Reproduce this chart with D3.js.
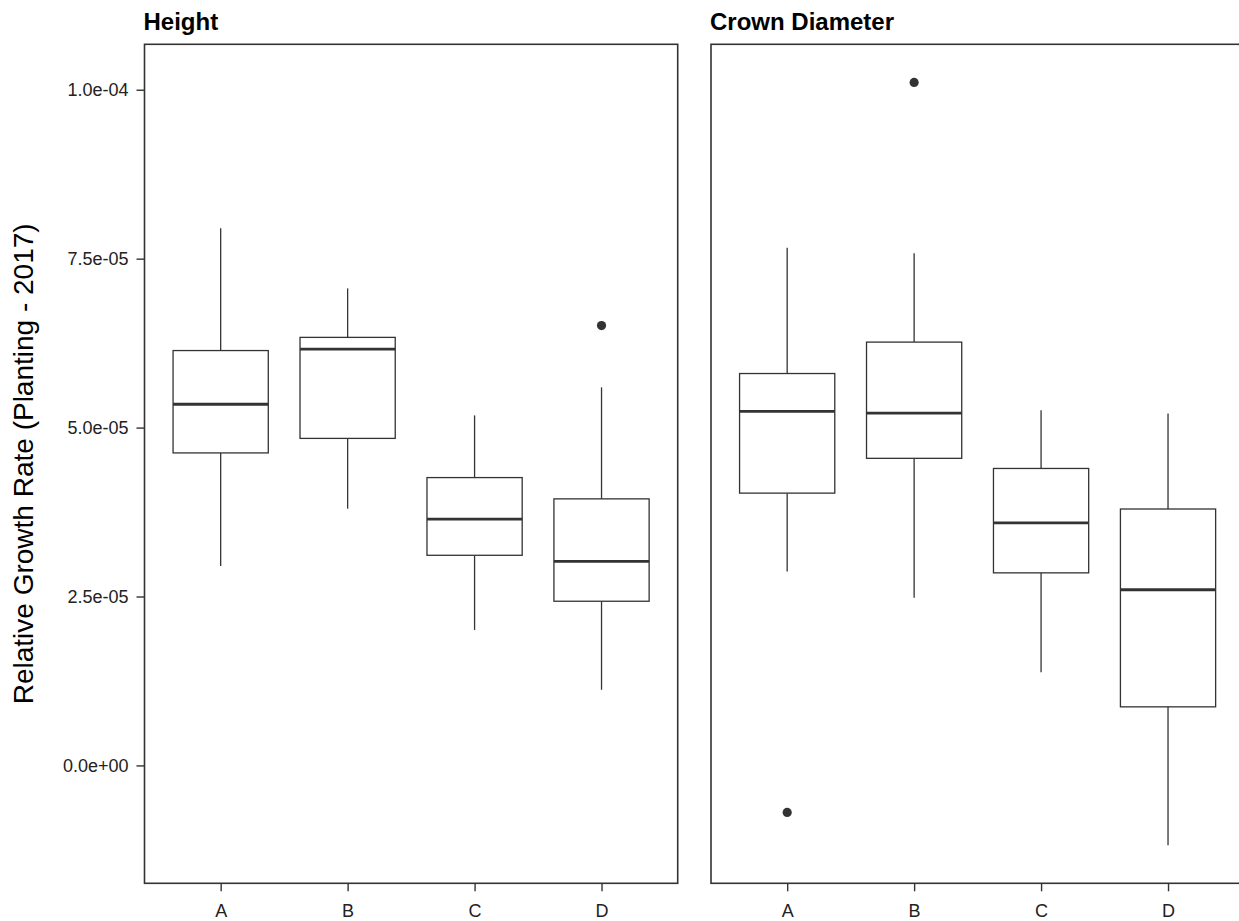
<!DOCTYPE html>
<html>
<head>
<meta charset="utf-8">
<script src="https://cdn.jsdelivr.net/npm/d3@7"></script>
<style>
  html, body { margin: 0; padding: 0; background: #fff; }
  svg { display: block; font-family: "Liberation Sans", Arial, sans-serif; }
</style>
</head>
<body>
<svg id="chart" width="1239" height="921"></svg>
<script>
// ---- data ----
const categories = ["A", "B", "C", "D"];
const panelTitles = ["Height", "Crown Diameter"];

// each row: [lower whisker, Q1, median, Q3, upper whisker]
const heightStats = [
  [2.95e-5, 4.625e-5, 5.345e-5, 6.14e-5, 7.95e-5],
  [3.80e-5, 4.84e-5, 6.16e-5, 6.335e-5, 7.06e-5],
  [2.005e-5, 3.11e-5, 3.645e-5, 4.26e-5, 5.18e-5],
  [1.12e-5, 2.43e-5, 3.02e-5, 3.945e-5, 5.595e-5]
];
const heightOutliers = [[], [], [], [6.51e-5]];

const crownStats = [
  [2.87e-5, 4.03e-5, 5.24e-5, 5.80e-5, 7.66e-5],
  [2.48e-5, 4.545e-5, 5.215e-5, 6.265e-5, 7.58e-5],
  [1.38e-5, 2.85e-5, 3.59e-5, 4.395e-5, 5.255e-5],
  [-1.18e-5, 0.867e-5, 2.60e-5, 3.795e-5, 5.21e-5]
];
const crownOutliers = [[-0.695e-5], [1.0108e-4], [], []];

const yTickValues = [0, 2.5e-5, 5.0e-5, 7.5e-5, 1.0e-4];
const yTickLabels = ["0.0e+00", "2.5e-05", "5.0e-05", "7.5e-05", "1.0e-04"];
const yTitle = "Relative Growth Rate (Planting - 2017)";

// ---- layout ----
const svg = d3.select("#chart");
const plotTop = 44.3, plotBottom = 883.3;
const panelW = 533.2;
const panelLefts = [144.5, 711];
const ink = "#333333";

const allVals = [];
[heightStats, crownStats].forEach(s => s.forEach(r => allVals.push(...r)));
[heightOutliers, crownOutliers].forEach(s => s.forEach(r => allVals.push(...r)));
const vmin = d3.min(allVals), vmax = d3.max(allVals);
const pad = (vmax - vmin) * 0.05;
const y = d3.scaleLinear().domain([vmin - pad, vmax + pad]).range([plotBottom, plotTop]);

const panels = [
  { title: panelTitles[0], stats: heightStats, outliers: heightOutliers },
  { title: panelTitles[1], stats: crownStats, outliers: crownOutliers }
];

panels.forEach((p, pi) => {
  const left = panelLefts[pi];
  const x = d3.scalePoint().domain(categories).range([left, left + panelW]).padding(0.6);
  const boxW = x.step() * 0.75;
  const g = svg.append("g");

  // facet title
  g.append("text")
    .attr("x", left - 1)
    .attr("y", 30)
    .attr("font-size", 24)
    .attr("font-weight", "bold")
    .attr("fill", "#000")
    .text(p.title);

  // boxes
  categories.forEach((c, i) => {
    const [lo, q1, med, q3, hi] = p.stats[i];
    const cx = x(c);
    g.append("line").attr("x1", cx).attr("x2", cx).attr("y1", y(q3)).attr("y2", y(hi))
      .attr("stroke", ink).attr("stroke-width", 1.3);
    g.append("line").attr("x1", cx).attr("x2", cx).attr("y1", y(q1)).attr("y2", y(lo))
      .attr("stroke", ink).attr("stroke-width", 1.3);
    g.append("rect")
      .attr("x", cx - boxW / 2).attr("y", y(q3))
      .attr("width", boxW).attr("height", y(q1) - y(q3))
      .attr("fill", "#fff").attr("stroke", ink).attr("stroke-width", 1.3);
    g.append("line").attr("x1", cx - boxW / 2).attr("x2", cx + boxW / 2)
      .attr("y1", y(med)).attr("y2", y(med))
      .attr("stroke", ink).attr("stroke-width", 2.8);
    p.outliers[i].forEach(v => {
      g.append("circle").attr("cx", cx).attr("cy", y(v)).attr("r", 4.6).attr("fill", ink);
    });
  });

  // panel border
  g.append("rect")
    .attr("x", left).attr("y", plotTop)
    .attr("width", panelW).attr("height", plotBottom - plotTop)
    .attr("fill", "none").attr("stroke", ink).attr("stroke-width", 1.6);

  // x axis
  const xa = g.append("g").attr("transform", `translate(0,${plotBottom})`)
    .call(d3.axisBottom(x).tickSize(8).tickPadding(13));
  xa.select(".domain").remove();
  xa.selectAll(".tick line").attr("stroke", ink).attr("stroke-width", 1.4);
  xa.selectAll(".tick text").attr("font-size", 18).attr("fill", "#222")
    .attr("font-family", "Liberation Sans, Arial, sans-serif");

  if (pi === 0) {
    const ya = g.append("g").attr("transform", `translate(${left},0)`)
      .call(d3.axisLeft(y).tickValues(yTickValues)
        .tickFormat((d, i) => yTickLabels[i]).tickSize(8).tickPadding(8));
    ya.select(".domain").remove();
    ya.selectAll(".tick line").attr("stroke", ink).attr("stroke-width", 1.4);
    ya.selectAll(".tick text").attr("font-size", 18).attr("fill", "#222")
      .attr("font-family", "Liberation Sans, Arial, sans-serif");
  }
});

// y axis title
svg.append("text")
  .attr("transform", `translate(33,${(plotTop + plotBottom) / 2}) rotate(-90)`)
  .attr("text-anchor", "middle")
  .attr("font-size", 28)
  .attr("fill", "#000")
  .text(yTitle);
</script>
</body>
</html>
